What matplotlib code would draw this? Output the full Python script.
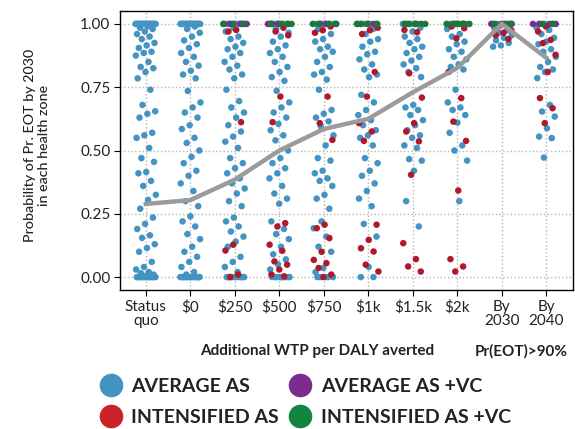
import numpy as np
import matplotlib
matplotlib.use("Agg")
import matplotlib.pyplot as plt
from matplotlib.lines import Line2D

plt.rcParams['font.family'] = ['Lato', 'DejaVu Sans']

# x categories
categories = ['Status\nquo', '\\$0', '\\$250', '\\$500', '\\$750', '\\$1k',
              '\\$1.5k', '\\$2k', 'By\n2030', 'By\n2040']

# mean probability (grey line)
mean_prob = [0.289, 0.304, 0.385, 0.50, 0.585, 0.625, 0.73, 0.826, 1.0, 0.866]

# AVERAGE AS (blue), one list per category
avg_as = [
    [1.0] * 22 + [0.99, 0.985, 0.98, 0.97, 0.96, 0.95, 0.94, 0.925, 0.915, 0.905, 0.89, 0.885,
                  0.875, 0.85, 0.83, 0.825, 0.81, 0.785, 0.74, 0.68, 0.655, 0.645, 0.63, 0.57,
                  0.56, 0.55, 0.51, 0.47, 0.455, 0.415, 0.41, 0.38, 0.36, 0.325, 0.305, 0.27,
                  0.235, 0.21, 0.19, 0.165, 0.155, 0.13, 0.115, 0.10, 0.06, 0.04, 0.03, 0.02,
                  0.015, 0.01, 0.005] + [0.0] * 14,
    [1.0] * 22 + [0.99, 0.98, 0.965, 0.95, 0.935, 0.92, 0.905, 0.885, 0.87, 0.85, 0.835, 0.815,
                  0.80, 0.785, 0.735, 0.69, 0.67, 0.65, 0.63, 0.60, 0.585, 0.55, 0.53, 0.50,
                  0.475, 0.45, 0.42, 0.40, 0.37, 0.34, 0.30, 0.28, 0.24, 0.22, 0.20, 0.17,
                  0.15, 0.12, 0.10, 0.08, 0.06, 0.04, 0.02, 0.01] + [0.0] * 14,
    [1.0] * 10 + [0.985, 0.97, 0.95, 0.94, 0.925, 0.91, 0.90, 0.885, 0.87, 0.85, 0.835, 0.82,
                  0.80, 0.785, 0.74, 0.695, 0.67, 0.65, 0.63, 0.60, 0.575, 0.555, 0.535, 0.51,
                  0.47, 0.45, 0.43, 0.41, 0.39, 0.37, 0.35, 0.33, 0.30, 0.28, 0.235, 0.22,
                  0.20, 0.18, 0.16, 0.14, 0.12, 0.08, 0.06, 0.04, 0.02] + [0.0] * 10,
    [1.0] * 8 + [0.98, 0.965, 0.95, 0.93, 0.915, 0.90, 0.885, 0.87, 0.85, 0.83, 0.81, 0.79,
                 0.775, 0.736, 0.69, 0.67, 0.65, 0.63, 0.605, 0.58, 0.56, 0.54, 0.50, 0.47,
                 0.45, 0.43, 0.41, 0.39, 0.36, 0.33, 0.31, 0.29, 0.22, 0.19, 0.17, 0.15,
                 0.12, 0.09, 0.07, 0.05, 0.03] + [0.0] * 9,
    [1.0] * 6 + [0.98, 0.96, 0.94, 0.93, 0.91, 0.90, 0.89, 0.87, 0.85, 0.83, 0.81, 0.80,
                 0.78, 0.74, 0.66, 0.645, 0.63, 0.615, 0.595, 0.56, 0.52, 0.47, 0.46, 0.42,
                 0.41, 0.39, 0.38, 0.36, 0.325, 0.31, 0.27, 0.22, 0.193, 0.16, 0.12, 0.10,
                 0.036, 0.02] + [0.0] * 5,
    [1.0] * 5 + [0.98, 0.96, 0.94, 0.93, 0.91, 0.89, 0.88, 0.86, 0.84, 0.82, 0.80, 0.79,
                 0.72, 0.69, 0.66, 0.64, 0.62, 0.60, 0.58, 0.56, 0.55, 0.52, 0.47, 0.45,
                 0.42, 0.40, 0.37, 0.34, 0.31, 0.28, 0.21, 0.16, 0.04, 0.0, 0.0],
    [1.0] * 5 + [0.985, 0.97, 0.95, 0.94, 0.925, 0.91, 0.90, 0.885, 0.87, 0.855, 0.84, 0.825,
                 0.81, 0.79, 0.68, 0.67, 0.66, 0.64, 0.62, 0.60, 0.58, 0.56, 0.55, 0.52,
                 0.51, 0.466, 0.46, 0.42, 0.30, 0.20],
    [1.0] * 5 + [0.98, 0.96, 0.95, 0.93, 0.92, 0.90, 0.89, 0.87, 0.86, 0.84, 0.83, 0.82,
                 0.74, 0.69, 0.67, 0.66, 0.64, 0.61, 0.57, 0.52, 0.50, 0.46, 0.30],
    [1.0] * 5 + [0.985, 0.975, 0.965, 0.955, 0.945, 0.935, 0.925, 0.915, 0.91],
    [1.0] * 3 + [0.985, 0.976, 0.96, 0.945, 0.93, 0.92, 0.90, 0.89, 0.87, 0.85, 0.83, 0.82,
                 0.81, 0.786, 0.68, 0.654, 0.634, 0.588, 0.555, 0.549, 0.472],
]

# INTENSIFIED AS (red)
int_as = [
    [],
    [],
    [0.976, 0.97, 0.612, 0.128, 0.105, 0.01, 0.0],
    [0.985, 0.97, 0.955, 0.713, 0.612, 0.213, 0.20, 0.128, 0.104, 0.062, 0.049, 0.03, 0.01, 0.003],
    [0.99, 0.975, 0.965, 0.713, 0.608, 0.542, 0.207, 0.193, 0.154, 0.10, 0.068, 0.055, 0.036,
     0.01, 0.0],
    [0.985, 0.975, 0.96, 0.81, 0.713, 0.608, 0.575, 0.538, 0.207, 0.147, 0.114, 0.101, 0.049,
     0.022],
    [0.976, 0.967, 0.805, 0.709, 0.608, 0.575, 0.536, 0.404, 0.134, 0.071, 0.042, 0.022],
    [0.99, 0.983, 0.943, 0.81, 0.707, 0.614, 0.538, 0.342, 0.071, 0.042, 0.022],
    [0.99, 0.975, 0.965, 0.955, 0.94],
    [0.99, 0.97, 0.937, 0.924, 0.878, 0.81, 0.707, 0.667, 0.608],
]

# AVERAGE AS +VC (purple)
avg_as_vc = [[], [], [1.0] * 4, [1.0] * 4, [1.0] * 3, [1.0] * 3, [1.0] * 2, [1.0] * 2,
             [1.0] * 4, [1.0] * 4]

# INTENSIFIED AS +VC (green)
int_as_vc = [[], [], [1.0] * 3, [1.0] * 4, [1.0] * 4, [1.0] * 4, [1.0] * 5, [1.0] * 6,
             [1.0] * 3, [1.0] * 2]

groups = [
    (avg_as, '#4393c3', 0.0, 0.23),
    (int_as, '#b2182b', 0.31, 0.23),
    (avg_as_vc, '#7b2d8e', 0.83, 0.30),
    (int_as_vc, '#1b7837', 0.57, 0.30),
]


def jitter(n, seed, width):
    # deterministic spread (golden ratio sequence)
    return ((np.arange(n) * 0.6180339887 + seed) % 1.0 - 0.5) * 2 * width


fig = plt.figure(figsize=(5.75, 4.29), dpi=100)
ax = fig.add_axes([120 / 575, 1 - 290 / 429, 453 / 575, 279 / 429])

x = np.arange(1, len(categories) + 1)
for data, color, seed, width in groups:
    for i, vals in enumerate(data):
        if not vals:
            continue
        xs = x[i] + jitter(len(vals), seed + i * 0.13, width)
        ax.scatter(xs, vals, s=22, color=color, edgecolors='none', zorder=3)

ax.plot(x, mean_prob, color='#9b9b9b', lw=3.2, zorder=5, solid_joinstyle='miter')

ax.set_xlim(0.42, 10.6)
ax.set_ylim(-0.051, 1.051)
ax.set_xticks(x)
ax.set_xticklabels(categories, linespacing=1.0)
ax.set_yticks([0, 0.25, 0.5, 0.75, 1.0])
ax.set_yticklabels(['0.00', '0.25', '0.50', '0.75', '1.00'])
ax.tick_params(length=4, width=0.8, labelsize=11, labelcolor='#222222', pad=3)
ax.grid(True, linestyle=':', color='#b5b5b5', linewidth=1.0)
ax.set_axisbelow(True)
for sp in ax.spines.values():
    sp.set_linewidth(1.0)
    sp.set_color('black')

fig.text(37 / 575, 1 - 145 / 429, 'Probability of Pr. EOT by 2030\nin each health zone',
         rotation=90, ha='center', va='center', multialignment='center',
         fontsize=10.3, color='#222222', fontweight='medium', linespacing=1.15)
fig.text(317 / 575, 1 - 351 / 429, 'Additional WTP per DALY averted', ha='center', va='center',
         fontsize=11, color='#222222', fontweight='bold')
fig.text(475 / 575, 1 - 351 / 429, 'Pr(EOT)>90%', ha='left', va='center',
         fontsize=11, color='#222222', fontweight='bold')

handles = [Line2D([], [], marker='o', ls='', markersize=17, color=c, markeredgewidth=0)
           for c in ['#4393c3', '#cc2229', '#7b2d8e', '#128540']]
labels = ['AVERAGE AS', 'INTENSIFIED AS', 'AVERAGE AS +VC', 'INTENSIFIED AS +VC']
fig.legend(handles, labels, ncol=2, frameon=False, loc='center left',
           bbox_to_anchor=(102 / 575, 1 - 402 / 429), prop={'size': 14, 'weight': 'bold'},
           handlelength=0.9, handletextpad=0.6, columnspacing=0.65, labelspacing=0.72,
           borderpad=0, borderaxespad=0, labelcolor='#222222')

fig.savefig('out.png', dpi=100)
